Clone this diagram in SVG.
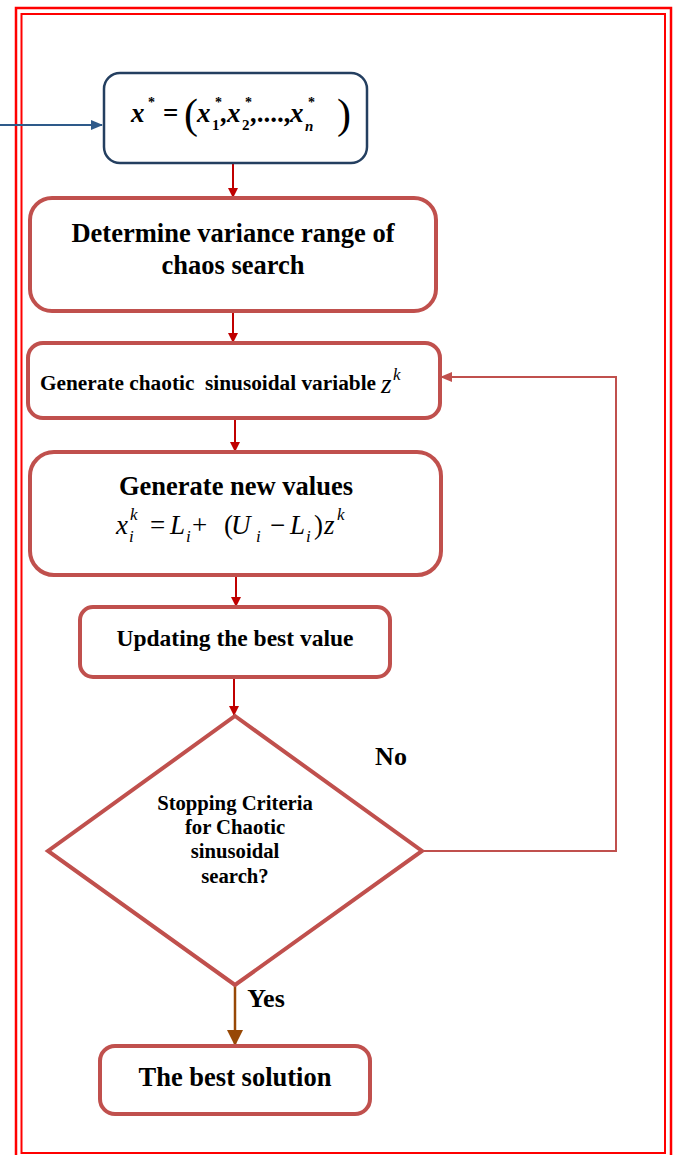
<svg xmlns="http://www.w3.org/2000/svg" width="677" height="1155" viewBox="0 0 677 1155">
<style>
.box{fill:#fff;stroke:#C0504D;stroke-width:4}
.t{font-family:"Liberation Serif",serif;font-weight:bold;fill:#000;text-anchor:middle}
.m{font-family:"Liberation Serif",serif;font-style:italic;fill:#000}
.c{stroke:#C00000;stroke-width:2;fill:none}
</style>
<defs>
<marker id="ar" markerWidth="10" markerHeight="10" refX="9" refY="5" orient="auto" markerUnits="userSpaceOnUse"><path d="M0,0 L10,5 L0,10 Z" fill="#C00000"/></marker>
<marker id="ab" markerWidth="12" markerHeight="10" refX="11" refY="5" orient="auto" markerUnits="userSpaceOnUse"><path d="M0,0 L12,5 L0,10 Z" fill="#2E5A8A"/></marker>
<marker id="al" markerWidth="12" markerHeight="10" refX="11" refY="5" orient="auto" markerUnits="userSpaceOnUse"><path d="M0,0 L12,5 L0,10 Z" fill="#C0504D"/></marker>
<marker id="ay" markerWidth="16" markerHeight="16" refX="15" refY="8" orient="auto" markerUnits="userSpaceOnUse"><path d="M0,0 L16,8 L0,16 Z" fill="#974806"/></marker>
</defs>
<rect width="677" height="1155" fill="#fff"/>
<g id="frame" fill="none" stroke="#FF0000">
<rect x="16" y="8" width="655" height="1160" stroke-width="2.5"/>
<rect x="21.5" y="14" width="643.5" height="1139" stroke-width="2"/>
</g>
<g id="connectors">
<line x1="0" y1="125" x2="102" y2="125" stroke="#2E5A8A" stroke-width="2" marker-end="url(#ab)"/>
<line class="c" x1="233" y1="164" x2="233" y2="197" marker-end="url(#ar)"/>
<line class="c" x1="233" y1="312" x2="233" y2="342" marker-end="url(#ar)"/>
<line class="c" x1="235" y1="419" x2="235" y2="451" marker-end="url(#ar)"/>
<line class="c" x1="236" y1="576" x2="236" y2="606" marker-end="url(#ar)"/>
<line class="c" x1="234" y1="678" x2="234" y2="715" marker-end="url(#ar)"/>
<polyline points="422,851 616,851 616,377 441,377" fill="none" stroke="#C0504D" stroke-width="2" marker-end="url(#al)"/>
<line x1="235" y1="985" x2="235" y2="1045" stroke="#974806" stroke-width="2.5" marker-end="url(#ay)"/>
<text class="t" x="391" y="765" font-size="26">No</text>
<text class="t" x="266" y="1007" font-size="26">Yes</text>
</g>
<g id="n1">
<rect x="104" y="73" width="263" height="90" rx="16" fill="#fff" stroke="#243F60" stroke-width="2.5"/>
<text font-family="'Liberation Serif',serif" font-style="italic" font-weight="bold" font-size="27" fill="#000"><tspan x="131" y="122">x</tspan><tspan x="148" y="107" font-size="14" font-style="normal">*</tspan><tspan x="163" y="122" font-style="normal">=</tspan><tspan x="184" y="128" font-size="42" font-style="normal" font-weight="normal">(</tspan><tspan x="197" y="122">x</tspan><tspan x="215" y="107" font-size="14" font-style="normal">*</tspan><tspan x="212" y="130" font-size="15" font-style="normal">1</tspan><tspan x="221" y="122">,</tspan><tspan x="227" y="122">x</tspan><tspan x="245" y="107" font-size="14" font-style="normal">*</tspan><tspan x="242" y="130" font-size="15" font-style="normal">2</tspan><tspan x="251" y="122">,....,</tspan><tspan x="290" y="122">x</tspan><tspan x="308" y="107" font-size="14" font-style="normal">*</tspan><tspan x="305" y="131" font-size="15">n</tspan><tspan x="337" y="128" font-size="42" font-style="normal" font-weight="normal">)</tspan></text>
</g>
<g id="n2">
<rect class="box" x="30" y="198" width="406" height="113" rx="22"/>
<text class="t" x="233" y="242" font-size="26.5">Determine variance range of</text>
<text class="t" x="233" y="274" font-size="26.5">chaos search</text>
</g>
<g id="n3">
<rect class="box" x="28" y="343" width="412" height="75" rx="15"/>
<text x="40" y="390" font-family="'Liberation Serif',serif" font-weight="bold" font-size="21.3" xml:space="preserve">Generate chaotic  sinusoidal variable</text>
<text class="m" font-size="27"><tspan x="381" y="393">z</tspan><tspan x="393" y="380" font-size="17">k</tspan></text>
</g>
<g id="n4">
<rect class="box" x="30" y="452" width="411" height="123" rx="24"/>
<text class="t" x="236" y="495" font-size="26.5">Generate new values</text>
<text class="m" font-size="27"><tspan x="116" y="534">x</tspan><tspan x="130" y="520" font-size="17">k</tspan><tspan x="129" y="542" font-size="17">i</tspan><tspan x="150" y="534" font-style="normal">=</tspan><tspan x="170" y="534">L</tspan><tspan x="186" y="542" font-size="17">i</tspan><tspan x="192" y="534" font-style="normal">+</tspan><tspan x="224" y="534" font-style="normal">(</tspan><tspan x="231" y="534">U</tspan><tspan x="256" y="542" font-size="17">i</tspan><tspan x="270" y="534" font-style="normal">−</tspan><tspan x="290" y="534">L</tspan><tspan x="306" y="542" font-size="17">i</tspan><tspan x="314" y="534" font-style="normal">)</tspan><tspan x="324" y="534">z</tspan><tspan x="337" y="520" font-size="17">k</tspan></text>
</g>
<g id="n5">
<rect class="box" x="80" y="607" width="310" height="70" rx="13"/>
<text class="t" x="235" y="646" font-size="23.5">Updating the best value</text>
</g>
<g id="n6">
<polygon class="box" points="235,716 422,851 235,985 48,851"/>
<text class="t" x="235" y="810" font-size="20.7">Stopping Criteria</text>
<text class="t" x="235" y="834" font-size="20.7">for Chaotic</text>
<text class="t" x="235" y="858" font-size="20.7">sinusoidal</text>
<text class="t" x="235" y="883" font-size="20.7">search?</text>
</g>
<g id="n7">
<rect class="box" x="100" y="1046" width="270" height="68" rx="15"/>
<text class="t" x="235" y="1086" font-size="26.5">The best solution</text>
</g>
</svg>
